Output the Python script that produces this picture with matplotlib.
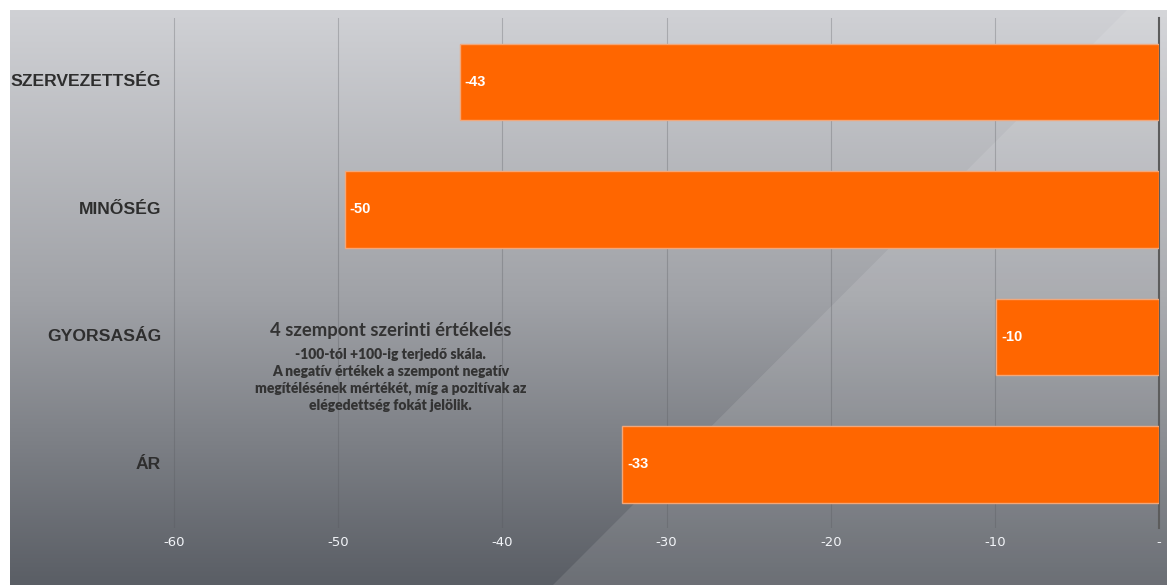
import matplotlib
matplotlib.use("Agg")
import matplotlib.pyplot as plt
from matplotlib.colors import LinearSegmentedColormap
import numpy as np

categories = ["SZERVEZETTSÉG", "MINŐSÉG", "GYORSASÁG", "ÁR"]
values = [-42.6, -49.6, -9.9, -32.7]
xticks = [-60, -50, -40, -30, -20, -10, 0]
xticklabels = ["-60", "-50", "-40", "-30", "-20", "-10", "-"]

W, H = 1167, 585
fig = plt.figure(figsize=(W / 100, H / 100), dpi=100)
fig.patch.set_facecolor("white")

# grey gradient background (starts 10px in from top/left)
bg = fig.add_axes([10 / W, 0, (W - 10) / W, (H - 10) / H])
bg.set_axis_off()
grad = np.linspace(0, 1, 256).reshape(-1, 1)
cmap = LinearSegmentedColormap.from_list("bg", ["#d0d1d5", "#a0a2a7", "#5a5e65"])
bg.imshow(grad, aspect="auto", cmap=cmap, extent=[0, W - 10, H - 10, 0])
bg.fill([1117, W - 10, W - 10, 543], [0, 0, H - 10, H - 10],
        color="white", alpha=0.11, lw=0)
bg.set_xlim(0, W - 10)
bg.set_ylim(H - 10, 0)

ax = fig.add_axes([10 / W, 1 - 528 / H, 1149 / W, 510 / H])
ax.patch.set_alpha(0)
y = np.arange(len(categories))
ax.barh(y, values, height=0.6, color="#ff6600", edgecolor="#f2a77a", lw=1, zorder=3)
for yi, v in zip(y, values):
    ax.text(v + 0.3, yi, f"{v:.0f}", color="white", fontsize=10.5, fontweight="bold",
            family="Liberation Sans", va="center", ha="left", zorder=4)
    ax.text(-70 + 9.2, yi, categories[yi], color="#2e2e2e", fontsize=12.6, fontweight="bold",
            family="Liberation Sans", va="center", ha="right", zorder=4)

ax.set_xlim(-70, 0)
ax.set_ylim(3.5, -0.5)
ax.set_xticks(xticks)
ax.set_xticklabels(xticklabels, color="#f2f4f8", fontsize=9.5, family="Liberation Sans Narrow")
ax.tick_params(axis="x", length=0, pad=6)
ax.set_yticks([])
ax.grid(axis="x", color="#55575c", lw=0.8, alpha=0.3, zorder=1)
for s in ["top", "left", "bottom"]:
    ax.spines[s].set_visible(False)
ax.spines["right"].set_color("#5c5c5c")
ax.spines["right"].set_linewidth(1.5)

ax.text(-46.8, 1.95, "4 szempont szerinti értékelés", color="#333333", fontsize=13.3,
        family="Lato", fontweight="bold", ha="center", va="center")
ax.text(-46.8, 2.34, "-100-tól +100-ig terjedő skála.\nA negatív értékek a szempont negatív\n"
        "megítélésének mértékét, míg a pozitívak az\nelégedettség fokát jelölik.",
        color="#333333", fontsize=10, family="Lato", fontweight="heavy",
        ha="center", va="center", linespacing=1.35)

fig.savefig("out.png", dpi=100)
